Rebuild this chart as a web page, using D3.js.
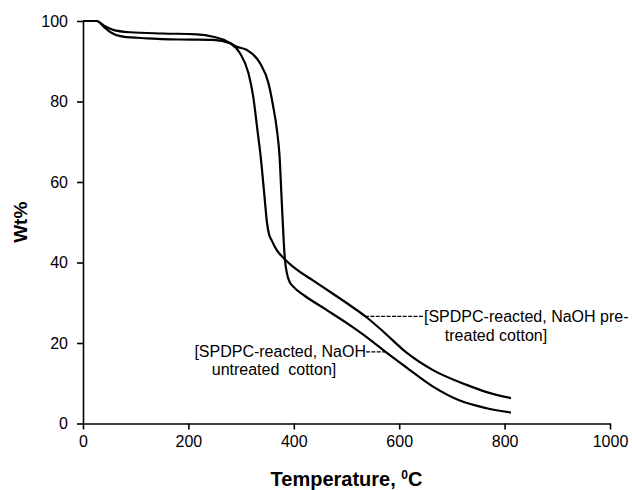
<!DOCTYPE html>
<html>
<head>
<meta charset="utf-8">
<script src="https://cdn.jsdelivr.net/npm/d3@7"></script>
<style>
  body { margin: 0; background: #fff; }
  svg { display: block; font-family: "Liberation Sans", Arial, sans-serif; }
</style>
</head>
<body>
<svg id="chart" width="632" height="490"></svg>
<script>
// Data (temperature in degC, weight %).
var pretreatedTemp = [0, 26, 40, 57, 89, 152, 216, 247, 279, 298, 314, 323, 331, 337, 345, 349, 353, 358, 368, 380, 402, 437, 470, 505, 538, 570, 614, 665, 728, 766, 812];
var pretreatedWt   = [100, 100, 98.8, 97.8, 97.2, 96.9, 96.7, 96.1, 94.5, 92, 87, 81.2, 72.9, 66.5, 55.5, 50, 47, 45.5, 43, 41.2, 38.6, 35.5, 32.6, 29.5, 26.4, 22.8, 17.6, 13.2, 9.6, 7.8, 6.3];

var untreatedTemp = [0, 26, 40, 51, 76, 121, 184, 247, 279, 292, 311, 336, 352, 361, 368, 373, 377, 381, 383, 387, 392, 399, 420, 460, 500, 540, 576, 614, 665, 715, 766, 812];
var untreatedWt   = [100, 100, 98.5, 97.3, 96.1, 95.7, 95.4, 95.3, 94.5, 93.6, 92.8, 89.5, 84.5, 78.7, 72.9, 66.3, 55.5, 45, 41, 37.3, 35.2, 34, 31.8, 28.4, 25, 21.3, 17.6, 13.9, 9.1, 5.7, 3.8, 2.7];

var xTicks = [0, 200, 400, 600, 800, 1000];
var yTicks = [0, 20, 40, 60, 80, 100];

// Chart frame in pixels.
var margin = { left: 83, right: 22, top: 21, bottom: 66.5 };
var width = 632, height = 490;

var svg = d3.select('#chart');

var x = d3.scaleLinear()
    .domain([0, 1000])
    .range([margin.left, width - margin.right]);

var y = d3.scaleLinear()
    .domain([0, 100])
    .range([height - margin.bottom, margin.top]);

// Axes
var xAxis = d3.axisBottom(x).tickValues(xTicks).tickFormat(d3.format('d'))
    .tickSize(6).tickSizeOuter(0).tickPadding(6);
var yAxis = d3.axisLeft(y).tickValues(yTicks).tickFormat(d3.format('d'))
    .tickSize(6).tickSizeOuter(0).tickPadding(9);

var gx = svg.append('g')
    .attr('transform', 'translate(0,' + y(0) + ')')
    .call(xAxis);
var gy = svg.append('g')
    .attr('transform', 'translate(' + x(0) + ',0)')
    .call(yAxis);

[gx, gy].forEach(function(g) {
    g.selectAll('path, line').attr('stroke', '#000').attr('stroke-width', 1.6);
    g.selectAll('text').attr('fill', '#000')
        .style('font-size', '16px')
        .style('font-family', '"Liberation Sans", Arial, sans-serif');
});

// Axis titles
var xTitle = svg.append('text')
    .attr('x', (x(0) + x(1000)) / 2).attr('y', 486)
    .attr('text-anchor', 'middle')
    .style('font-weight', 'bold').style('font-size', '20px');
xTitle.append('tspan').text('Temperature, ');
xTitle.append('tspan').attr('dy', -7).style('font-size', '12px').text('0');
xTitle.append('tspan').attr('dy', 7).text('C');

svg.append('text')
    .attr('transform', 'translate(27,' + y(50) + ') rotate(-90)')
    .attr('text-anchor', 'middle')
    .style('font-weight', 'bold').style('font-size', '19px')
    .text('Wt%');

// Curves
var line = d3.line()
    .x(function(d) { return x(d[0]); })
    .y(function(d) { return y(d[1]); })
    .curve(d3.curveMonotoneX);

var series = [
    d3.zip(pretreatedTemp, pretreatedWt),
    d3.zip(untreatedTemp, untreatedWt)
];

svg.selectAll('.curve').data(series)
    .enter().append('path')
    .attr('class', 'curve')
    .attr('d', line)
    .attr('fill', 'none')
    .attr('stroke', '#000')
    .attr('stroke-width', 2.2);

// Annotations with dashed leaders
var ann = svg.append('g').style('font-size', '16px').attr('fill', '#000');

ann.append('line')
    .attr('x1', x(535)).attr('y1', y(26.6))
    .attr('x2', 424).attr('y2', y(26.6))
    .attr('stroke', '#000').attr('stroke-width', 1.2).attr('stroke-dasharray', '4,1.4');
ann.append('text').attr('x', 424).attr('y', 322).text('[SPDPC-reacted, NaOH pre-');
ann.append('text').attr('x', 496).attr('y', 341).attr('text-anchor', 'middle').text('treated cotton]');

ann.append('line')
    .attr('x1', 366).attr('y1', y(17.8))
    .attr('x2', x(574)).attr('y2', y(17.8))
    .attr('stroke', '#000').attr('stroke-width', 1.2).attr('stroke-dasharray', '4,1.4');
ann.append('text').attr('x', 366).attr('y', 357).attr('text-anchor', 'end').text('[SPDPC-reacted, NaOH');
ann.append('text').attr('x', 274).attr('y', 375).attr('text-anchor', 'middle')
    .style('white-space', 'pre').text('untreated  cotton]');
</script>
</body>
</html>
